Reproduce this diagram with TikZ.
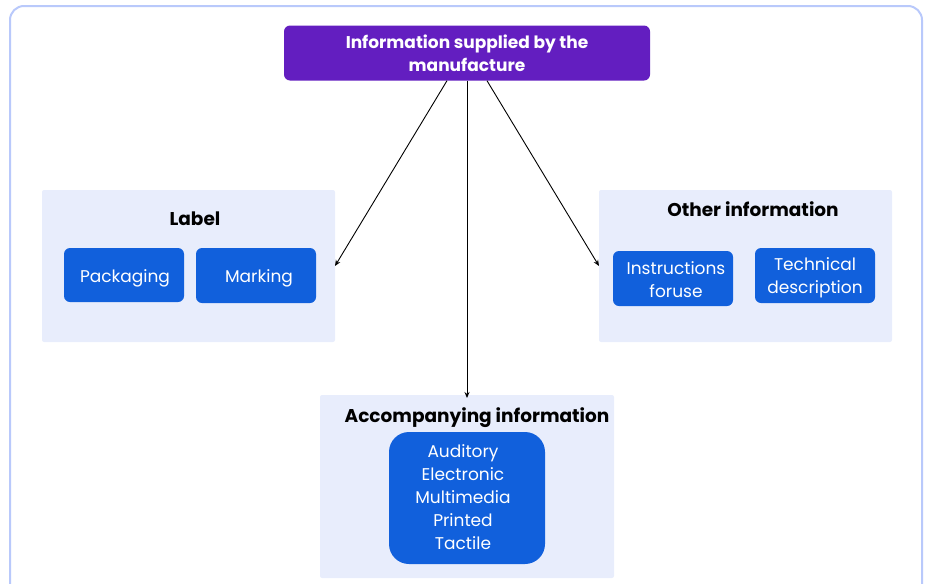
\documentclass[tikz,border=0pt]{standalone}
\usepackage{fontspec}
\setmainfont{Poppins}
\usetikzlibrary{arrows.meta}
\definecolor{frameblue}{HTML}{B9C9FB}
\definecolor{groupbg}{HTML}{E8EDFC}
\definecolor{boxblue}{HTML}{1160DC}
\definecolor{toppurple}{HTML}{631EC0}
\tikzset{
  group/.style={fill=groupbg, rounded corners=2pt},
  bluebox/.style={fill=boxblue, rounded corners=6pt, inner sep=0pt},
  btext/.style={text=white, align=center, font=\fontsize{17}{23}\selectfont, inner sep=0pt},
  grouptitle/.style={font=\fontsize{18.5}{22}\selectfont\bfseries, text=black},
  conn/.style={-{Stealth[length=6pt,width=5pt]}, line width=0.9pt, black},
}
\begin{document}
\begin{tikzpicture}[x=1pt,y=-1pt]
\useasboundingbox (0,0) rectangle (927,584);
% outer frame
\draw[frameblue, line width=2pt, rounded corners=14pt] (10,600) -- (10,6) -- (922,6) -- (922,600);
% groups
\fill[group] (42,190) rectangle (335,342);
\fill[group] (599,190) rectangle (892,342);
\fill[group] (320,395) rectangle (614,578);
% top box
\node[fill=toppurple, rounded corners=6pt, minimum width=366pt, minimum height=55pt, text=white, align=center, font=\fontsize{17}{23}\selectfont\bfseries, inner sep=0pt] (top) at (467,53) {Information supplied by the\\manufacture};
% titles
\node[grouptitle] (labt) at (195,219) {Label};
\node[grouptitle] (othert) at (753,209.5) {Other information};
\node[grouptitle] (acct) at (477,418) {Accompanying information};
% blue boxes
\node[bluebox, minimum width=120pt, minimum height=54pt,
  label={[btext, xshift=1pt, yshift=-3pt]center:Packaging}] (pack) at (124,275) {};
\node[bluebox, minimum width=120pt, minimum height=55pt,
  label={[btext, xshift=3pt, yshift=-3pt]center:Marking}] (mark) at (256,275.5) {};
\node[bluebox, minimum width=120pt, minimum height=55pt,
  label={[btext, xshift=3pt, yshift=-1pt]center:{Instructions\\foruse}}] (instr) at (673,278.5) {};
\node[bluebox, minimum width=120pt, minimum height=55pt,
  label={[btext, yshift=-2pt]center:{Technical\\description}}] (tech) at (815,275.5) {};
\node[bluebox, rounded corners=20pt, minimum width=156pt, minimum height=132pt,
  label={[btext, xshift=-4pt, yshift=1pt]center:{Auditory\\Electronic\\Multimedia\\Printed\\Tactile}}] (acc) at (467,498) {};
% anchors for arrows
\coordinate (labin) at (335,266);
\coordinate (othin) at (599,266);
\coordinate (accin) at (467,398);
\draw[conn] (top.south -| 447,0) -- (labin);
\draw[conn] (top.south) -- (accin);
\draw[conn] (top.south -| 487,0) -- (othin);
\end{tikzpicture}
\end{document}
